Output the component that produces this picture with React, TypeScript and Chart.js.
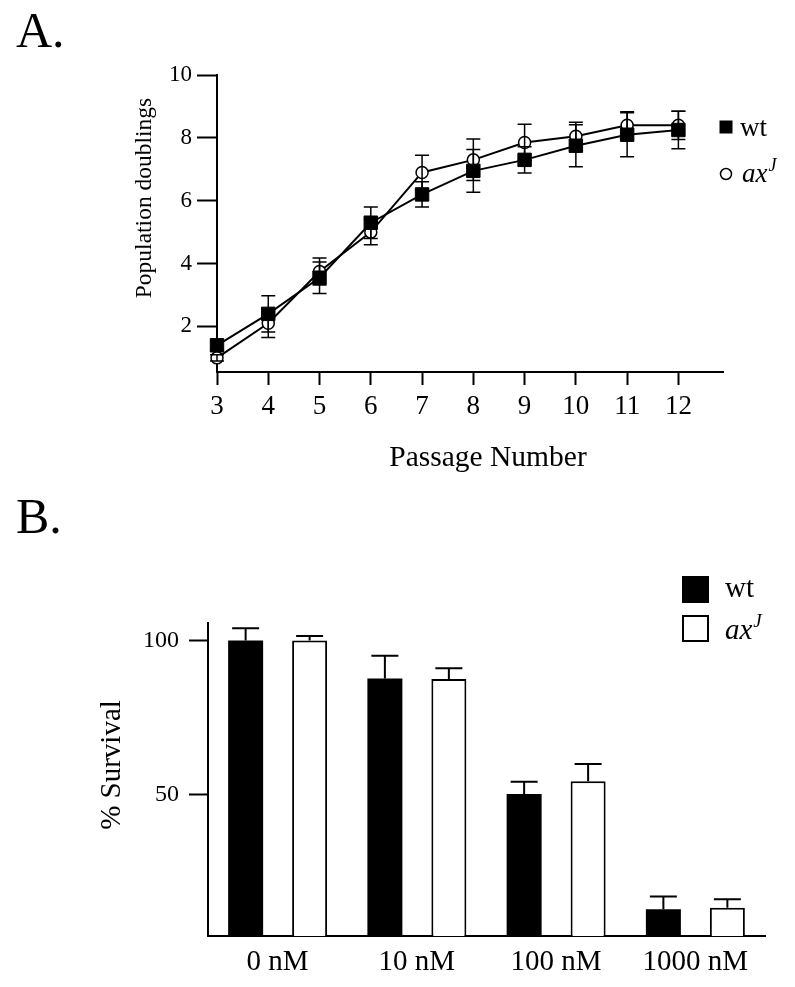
import React, { useEffect, useRef } from "react";
import { Chart, registerables } from "chart.js";

Chart.register(...registerables);

const FONT = "'Liberation Serif', 'Times New Roman', serif";

// ---------- Panel A data ----------
const passages = [3, 4, 5, 6, 7, 8, 9, 10, 11, 12];
const wtDoublings = [1.4, 2.4, 3.55, 5.3, 6.2, 6.95, 7.3, 7.75, 8.1, 8.25];
const wtDoublingsErr = [0.15, 0.58, 0.5, 0.5, 0.4, 0.68, 0.42, 0.67, 0.7, 0.6];
const axDoublings = [1.0, 2.1, 3.75, 5.0, 6.9, 7.3, 7.85, 8.05, 8.4, 8.4];
const axDoublingsErr = [0.1, 0.45, 0.43, 0.4, 0.55, 0.66, 0.58, 0.45, 0.43, 0.45];
const doublingTicks = [2, 4, 6, 8, 10];

// ---------- Panel B data ----------
const doses = ["0 nM", "10 nM", "100 nM", "1000 nM"];
const wtSurvival = [100, 87.7, 50.2, 12.8];
const wtSurvivalErr = [4.0, 7.4, 4.0, 4.1];
const axSurvival = [100, 87.5, 54.3, 13.3];
const axSurvivalErr = [1.5, 3.5, 5.6, 2.7];
const survivalTicks = [50, 100];

const BLACK = "#000000";

function drawAxJ(ctx: CanvasRenderingContext2D, x: number, baseline: number, size: number) {
  ctx.font = `italic ${size}px ${FONT}`;
  ctx.textAlign = "left";
  ctx.textBaseline = "alphabetic";
  ctx.fillText("ax", x, baseline);
  const w = ctx.measureText("ax").width;
  ctx.font = `italic ${Math.round(size * 0.65)}px ${FONT}`;
  ctx.fillText("J", x + w + 1, baseline - size * 0.42);
}

const errorBarsA = {
  id: "errorBarsA",
  afterDatasetsDraw(chart: any) {
    const ctx = chart.ctx as CanvasRenderingContext2D;
    const yScale = chart.scales.y;
    ctx.save();
    ctx.strokeStyle = BLACK;
    ctx.lineWidth = 1.5;
    chart.data.datasets.forEach((ds: any, i: number) => {
      const meta = chart.getDatasetMeta(i);
      meta.data.forEach((el: any, j: number) => {
        const v = ds.data[j].y;
        const e = ds.errors[j];
        const yt = yScale.getPixelForValue(v + e);
        const yb = yScale.getPixelForValue(v - e);
        const x = el.x;
        ctx.beginPath();
        ctx.moveTo(x, yt);
        ctx.lineTo(x, yb);
        ctx.moveTo(x - 7, yt);
        ctx.lineTo(x + 7, yt);
        ctx.moveTo(x - 7, yb);
        ctx.lineTo(x + 7, yb);
        ctx.stroke();
      });
    });
    ctx.restore();
  },
};

const textA = {
  id: "textA",
  afterDraw(chart: any) {
    const ctx = chart.ctx as CanvasRenderingContext2D;
    ctx.save();
    ctx.fillStyle = BLACK;
    ctx.strokeStyle = BLACK;
    ctx.textAlign = "left";
    ctx.textBaseline = "alphabetic";
    ctx.font = `50px ${FONT}`;
    ctx.fillText("A.", 16, 47);

    ctx.font = `29.5px ${FONT}`;
    ctx.textAlign = "center";
    ctx.fillText("Passage Number", 488, 466);

    ctx.save();
    ctx.translate(145, 198);
    ctx.rotate(-Math.PI / 2);
    ctx.font = `23.5px ${FONT}`;
    ctx.textAlign = "center";
    ctx.textBaseline = "middle";
    ctx.fillText("Population doublings", 0, 0);
    ctx.restore();

    // legend
    ctx.fillRect(719.5, 120.5, 13, 13);
    ctx.font = `27px ${FONT}`;
    ctx.textAlign = "left";
    ctx.fillText("wt", 740, 136);
    ctx.beginPath();
    ctx.lineWidth = 1.5;
    ctx.fillStyle = "#fff";
    ctx.arc(726, 174, 5.5, 0, Math.PI * 2);
    ctx.fill();
    ctx.stroke();
    ctx.fillStyle = BLACK;
    drawAxJ(ctx, 742, 182, 27);
    ctx.restore();
  },
};

const errorBarsB = {
  id: "errorBarsB",
  afterDatasetsDraw(chart: any) {
    const ctx = chart.ctx as CanvasRenderingContext2D;
    const yScale = chart.scales.y;
    ctx.save();
    ctx.strokeStyle = BLACK;
    ctx.lineWidth = 2;
    chart.data.datasets.forEach((ds: any, i: number) => {
      const meta = chart.getDatasetMeta(i);
      meta.data.forEach((el: any, j: number) => {
        const v = ds.data[j];
        const e = ds.errors[j];
        const yt = yScale.getPixelForValue(v + e);
        const yv = yScale.getPixelForValue(v);
        const x = el.x;
        ctx.beginPath();
        ctx.moveTo(x, yv);
        ctx.lineTo(x, yt);
        ctx.moveTo(x - 13.5, yt);
        ctx.lineTo(x + 13.5, yt);
        ctx.stroke();
      });
    });
    ctx.restore();
  },
};

const textB = {
  id: "textB",
  afterDraw(chart: any) {
    const ctx = chart.ctx as CanvasRenderingContext2D;
    ctx.save();
    ctx.fillStyle = BLACK;
    ctx.strokeStyle = BLACK;
    ctx.textAlign = "left";
    ctx.textBaseline = "alphabetic";
    ctx.font = `50px ${FONT}`;
    ctx.fillText("B.", 16, 53);

    ctx.save();
    ctx.translate(112, 285);
    ctx.rotate(-Math.PI / 2);
    ctx.font = `29px ${FONT}`;
    ctx.textAlign = "center";
    ctx.textBaseline = "middle";
    ctx.fillText("% Survival", 0, 0);
    ctx.restore();

    // legend
    ctx.fillRect(682, 96, 27, 27);
    ctx.lineWidth = 2;
    ctx.strokeRect(683, 136, 25, 25);
    ctx.font = `29px ${FONT}`;
    ctx.textAlign = "left";
    ctx.fillText("wt", 725, 117);
    drawAxJ(ctx, 725, 159, 29);
    ctx.restore();
  },
};

function PanelA() {
  const ref = useRef<HTMLCanvasElement | null>(null);
  useEffect(() => {
    if (!ref.current) return;
    const chart = new Chart(ref.current, {
      type: "line",
      data: {
        datasets: [
          {
            label: "wt",
            data: passages.map((p, i) => ({ x: p, y: wtDoublings[i] })),
            errors: wtDoublingsErr,
            borderColor: BLACK,
            borderWidth: 2,
            backgroundColor: BLACK,
            pointStyle: "rect",
            pointRadius: 9.5,
            pointBorderWidth: 1,
            pointBorderColor: BLACK,
            pointBackgroundColor: BLACK,
            tension: 0,
            clip: false,
          } as any,
          {
            label: "axJ",
            data: passages.map((p, i) => ({ x: p, y: axDoublings[i] })),
            errors: axDoublingsErr,
            borderColor: BLACK,
            borderWidth: 2,
            backgroundColor: "#fff",
            pointStyle: "circle",
            pointRadius: 6,
            pointBorderWidth: 1.5,
            pointBorderColor: BLACK,
            pointBackgroundColor: "#fff",
            tension: 0,
            clip: false,
          } as any,
        ],
      },
      options: {
        animation: false,
        responsive: false,
        maintainAspectRatio: false,
        layout: { padding: { top: 75, right: 72, left: 0, bottom: 0 } },
        plugins: { legend: { display: false }, tooltip: { enabled: false } },
        scales: {
          x: {
            type: "linear",
            min: 3,
            max: 12.87,
            afterBuildTicks: (s: any) => {
              s.ticks = passages.map((v) => ({ value: v }));
            },
            afterFit: (s: any) => {
              s.height = 108;
            },
            grid: {
              display: true,
              drawOnChartArea: false,
              drawTicks: true,
              tickLength: 13,
              tickWidth: 2,
              tickColor: BLACK,
              color: BLACK,
            },
            border: { display: true, color: BLACK, width: 2 },
            ticks: {
              color: BLACK,
              font: { family: FONT, size: 27 },
              padding: 6,
              autoSkip: false,
              maxRotation: 0,
            },
          },
          y: {
            type: "linear",
            min: 0.55,
            max: 10,
            afterBuildTicks: (s: any) => {
              s.ticks = doublingTicks.map((v) => ({ value: v }));
            },
            afterFit: (s: any) => {
              s.width = 217;
            },
            grid: {
              display: true,
              drawOnChartArea: false,
              drawTicks: true,
              tickLength: 20,
              tickWidth: 2,
              tickColor: BLACK,
              color: BLACK,
            },
            border: { display: true, color: BLACK, width: 2 },
            ticks: {
              color: BLACK,
              font: { family: FONT, size: 23 },
              padding: 5,
            },
          },
        },
      } as any,
      plugins: [errorBarsA, textA],
    });
    return () => chart.destroy();
  }, []);
  return (
    <canvas
      ref={ref}
      width={795}
      height={480}
      style={{ position: "absolute", left: 0, top: 0, width: 795, height: 480 }}
    />
  );
}

function PanelB() {
  const ref = useRef<HTMLCanvasElement | null>(null);
  useEffect(() => {
    if (!ref.current) return;
    const chart = new Chart(ref.current, {
      type: "bar",
      data: {
        labels: doses,
        datasets: [
          {
            label: "wt",
            data: wtSurvival,
            errors: wtSurvivalErr,
            backgroundColor: BLACK,
            borderWidth: 0,
            categoryPercentage: 0.919,
            barPercentage: 0.547,
          } as any,
          {
            label: "axJ",
            data: axSurvival,
            errors: axSurvivalErr,
            backgroundColor: "#ffffff",
            borderColor: BLACK,
            borderWidth: 2,
            borderSkipped: "bottom",
            categoryPercentage: 0.919,
            barPercentage: 0.547,
          } as any,
        ],
      },
      options: {
        animation: false,
        responsive: false,
        maintainAspectRatio: false,
        layout: { padding: { top: 143, right: 30, left: 0, bottom: 0 } },
        plugins: { legend: { display: false }, tooltip: { enabled: false } },
        scales: {
          x: {
            type: "category",
            offset: true,
            afterFit: (s: any) => {
              s.height = 51;
            },
            grid: { display: false, drawTicks: false, drawOnChartArea: false },
            border: { display: true, color: BLACK, width: 2 },
            ticks: {
              color: BLACK,
              font: { family: FONT, size: 29 },
              padding: 9,
              autoSkip: false,
              maxRotation: 0,
            },
          },
          y: {
            type: "linear",
            min: 4.1,
            max: 105.7,
            afterBuildTicks: (s: any) => {
              s.ticks = survivalTicks.map((v) => ({ value: v }));
            },
            afterFit: (s: any) => {
              s.width = 208;
            },
            grid: {
              display: true,
              drawOnChartArea: false,
              drawTicks: true,
              tickLength: 19,
              tickWidth: 2,
              tickColor: BLACK,
              color: BLACK,
            },
            border: { display: true, color: BLACK, width: 2 },
            ticks: {
              color: BLACK,
              font: { family: FONT, size: 24 },
              padding: 10,
            },
          },
        },
      } as any,
      plugins: [errorBarsB, textB],
    });
    return () => chart.destroy();
  }, []);
  return (
    <canvas
      ref={ref}
      width={795}
      height={507}
      style={{ position: "absolute", left: 0, top: 480, width: 795, height: 507 }}
    />
  );
}

export default function App() {
  useEffect(() => {
    document.body.style.margin = "0";
  }, []);
  return (
    <div style={{ position: "relative", width: 795, height: 987, background: "#fff", overflow: "hidden" }}>
      <PanelA />
      <PanelB />
    </div>
  );
}
